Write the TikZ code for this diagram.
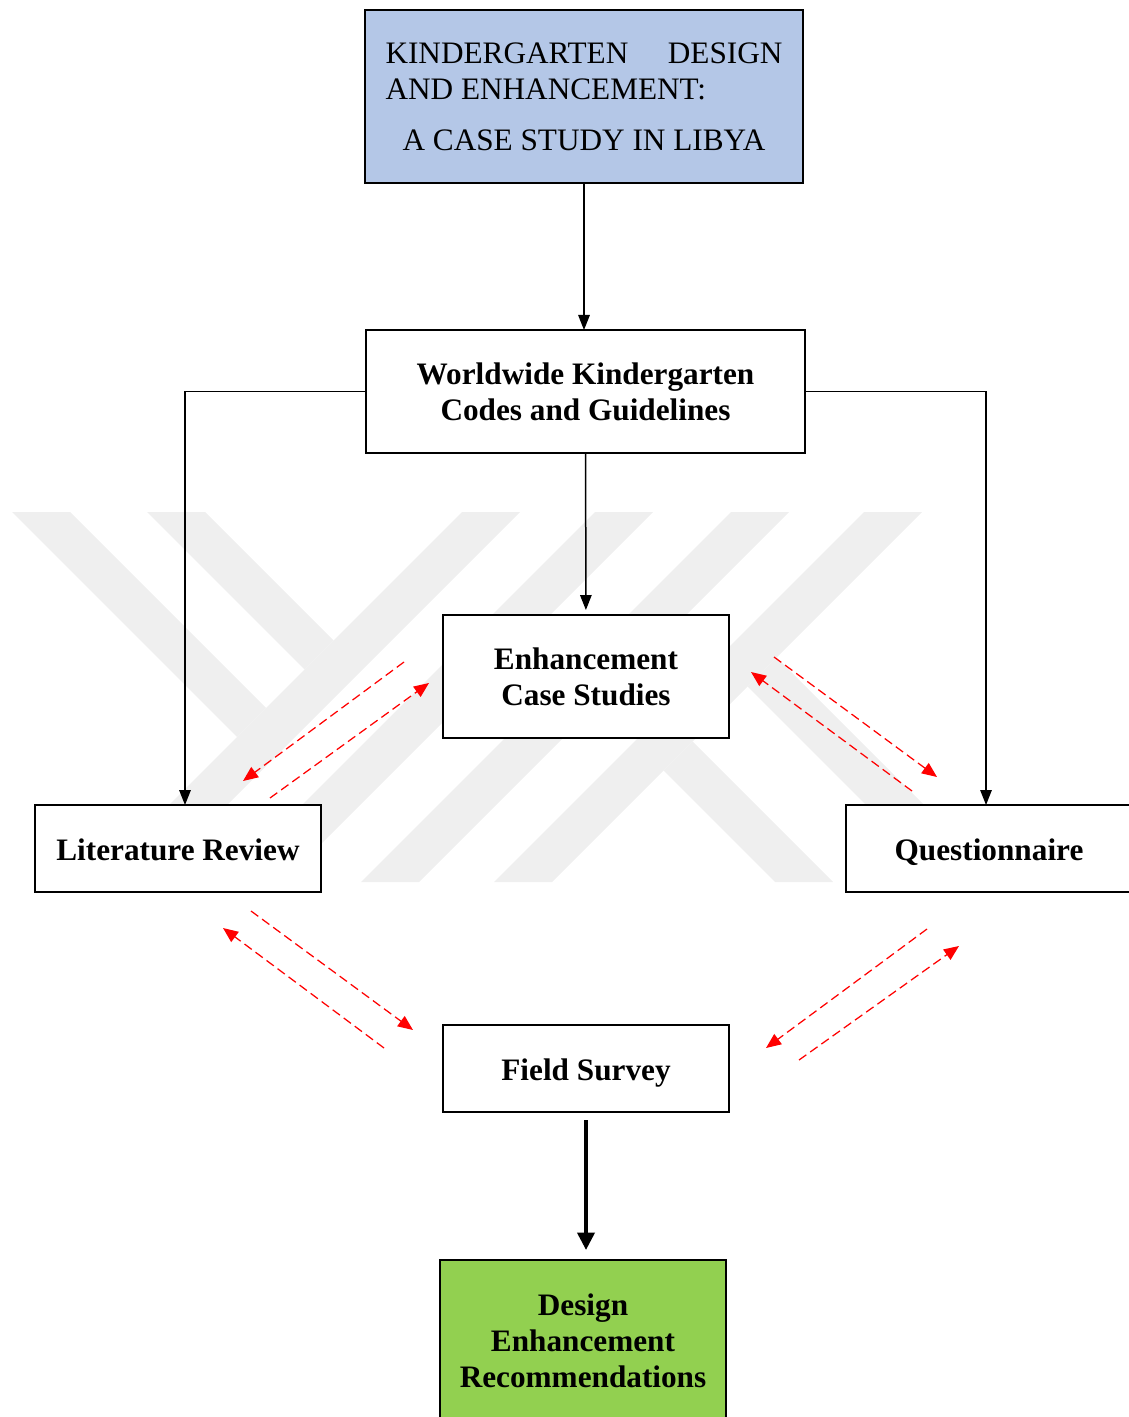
\documentclass[tikz,border=0pt]{standalone}
\usepackage{fontspec}
\setmainfont{Liberation Serif}
\usetikzlibrary{
arrows.meta,
positioning
}
\definecolor{titleblue}{HTML}{B4C7E7}
\definecolor{recgreen}{HTML}{92D050}
\definecolor{logogray}{HTML}{EFEFEF}

\begin{document}
\begin{tikzpicture}[
x=0.4pt,y=-0.4pt,
box/.style={
draw,
line width=0.8pt,
fill=white,
minimum width=114.4pt,
minimum height=34.8pt,
inner sep=0pt,
outer sep=0pt,
align=center,
font=\fontsize{12.5}{14.4}\selectfont\bfseries
},
onebox/.style={box,text height=9.5pt,text depth=0pt},
arrow/.style={-{Triangle[length=6pt,width=4.6pt]},line width=0.6pt},
bigarrow/.style={-{Triangle[length=7pt,width=6.8pt]},line width=1.6pt},
link/.style={-{Triangle[length=6pt,width=5pt]},red,dash pattern=on 3.6pt off 1.9pt,line width=0.5pt},
logo/.style={fill=logogray}
]
\useasboundingbox (0,0) rectangle (1128,1417);

% watermark in the background
\fill[logo] (12,512) -- (70,512) -- (266,708) -- (237,737) -- cycle;
\fill[logo] (147,512) -- (205,512) -- (333.5,640.5) -- (304.5,669.5) -- cycle;
\fill[logo] (462,512) -- (520,512) -- (150,882) -- (92,882) -- cycle;
\fill[logo] (595,512) -- (653,512) -- (283,882) -- (225,882) -- cycle;
\fill[logo] (731,512) -- (789,512) -- (419,882) -- (361,882) -- cycle;
\fill[logo] (864,512) -- (922,512) -- (552,882) -- (494,882) -- cycle;
\fill[logo] (747.5,686.5) -- (776.5,657.5) -- (1001,882) -- (943,882) -- cycle;
\fill[logo] (663.5,770.5) -- (692.5,741.5) -- (833,882) -- (775,882) -- cycle;

\node[box,fill=titleblue,minimum width=175.2pt,minimum height=69.2pt,
font=\fontsize{12.5}{14.4}\selectfont] (title) at (584,96.5)
{\parbox{158.8pt}{KINDERGARTEN\hfill DESIGN\\AND ENHANCEMENT:\par\vspace{6pt}\centering A CASE STUDY IN LIBYA}};
\node[box,below=58.8pt of title,xshift=0.6pt,minimum width=175.6pt,minimum height=49.2pt] (world) {Worldwide Kindergarten\\Codes and Guidelines};
\node[box,below=64.8pt of world,xshift=0.2pt,minimum height=49.2pt] (case) {Enhancement\\Case Studies};
\node[onebox,below left=26.8pt and 48.8pt of case] (lit) {Literature Review};
\node[onebox,below right=26.8pt and 46.8pt of case] (quest) {Questionnaire};
\node[onebox,below=114.8pt of case] (field) {Field Survey};
\node[box,fill=recgreen,below=59.2pt of field,xshift=-1.2pt,minimum height=64.4pt] (design) {Design\\Enhancement\\Recommendations};

\draw[arrow] (title.south) -- (title.south |- world.north);
\draw[arrow] (world.west) -| ([xshift=2.8pt]lit.north);
\draw[arrow] (world.east) -| ([xshift=-1.2pt]quest.north);
\draw[arrow,shorten >=2pt] (world) -- (case);
\draw[bigarrow,shorten <=3.2pt,shorten >=4pt] (field) -- (field |- design.north);

% two-way red links
\coordinate (lc1) at (404,662);
\coordinate (lc2) at (243,781);
\coordinate (lc3) at (270,798);
\coordinate (lc4) at (429,683);
\coordinate (cq1) at (774,657);
\coordinate (cq2) at (937,777);
\coordinate (cq3) at (912,791);
\coordinate (cq4) at (751,672);
\coordinate (lf1) at (251,911);
\coordinate (lf2) at (413,1030);
\coordinate (lf3) at (384,1048);
\coordinate (lf4) at (223,928);
\coordinate (qf1) at (927,929);
\coordinate (qf2) at (766,1048);
\coordinate (qf3) at (799,1060);
\coordinate (qf4) at (959,946);

\draw[link] (lc1) -- (lc2);
\draw[link] (lc3) -- (lc4);
\draw[link] (cq1) -- (cq2);
\draw[link] (cq3) -- (cq4);
\draw[link] (lf1) -- (lf2);
\draw[link] (lf3) -- (lf4);
\draw[link] (qf1) -- (qf2);
\draw[link] (qf3) -- (qf4);

\end{tikzpicture}
\end{document}
